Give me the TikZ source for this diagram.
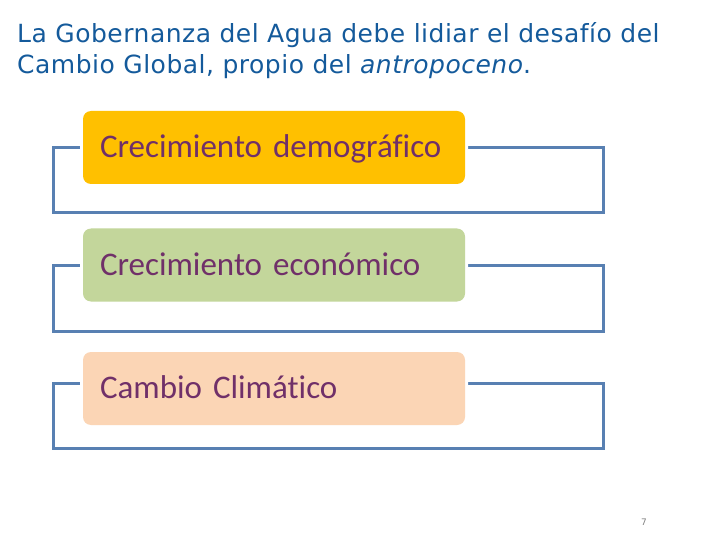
\documentclass[tikz,border=0pt]{standalone}
\usepackage{fontspec}
\setmainfont{DejaVu Sans}
\newfontfamily\cajafont[Ligatures=NoCommon]{Carlito}
\usetikzlibrary{positioning}

\definecolor{azultitulo}{RGB}{20,90,155}
\definecolor{azulmarco}{RGB}{88,128,178}
\definecolor{amarillo}{RGB}{255,192,0}
\definecolor{verde}{RGB}{195,214,155}
\definecolor{durazno}{RGB}{251,213,181}
\definecolor{morado}{RGB}{112,48,105}

\tikzset{
  titulo/.style={anchor=north west, inner sep=0pt, align=left, text=azultitulo,
    font=\fontsize{25}{31}\selectfont\addfontfeature{LetterSpace=2}},
  marco/.style={draw=azulmarco, line width=3pt},
  caja/.style={rounded corners=8pt, minimum height=73pt, text width=348pt,
    inner xsep=17pt, inner ysep=0pt, align=left, text height=24pt, text depth=4pt,
    text=morado, font=\cajafont\fontsize{33}{36}\selectfont,
    preaction={draw=white, line width=6pt}},
  pagina/.style={text=gray, font=\fontsize{9}{10}\selectfont, inner sep=0pt}
}

\begin{document}
\begin{tikzpicture}[x=1pt,y=-1pt]
\useasboundingbox (0,0) rectangle (720,540);

\node[titulo] (titulo) at (17,22) {La Gobernanza del Agua debe lidiar el desafío del\\
Cambio Global, propio del \textit{antropoceno}.};

% marcos
\draw [marco] (53,148) rectangle (603,213);
\draw [marco] (53,265) rectangle (603,331);
\draw [marco] (53,383) rectangle (603,448);

% cajas
\node[caja, fill=amarillo] (demografico) at (274,147.5) {Crecimiento demográfico};
\node[caja, fill=verde] (economico) at (274,265) {Crecimiento económico};
\node[caja, fill=durazno] (climatico) at (274,388.5) {Cambio Climático};

\node[pagina] (num) at (644,522) {7};
\end{tikzpicture}
\end{document}
